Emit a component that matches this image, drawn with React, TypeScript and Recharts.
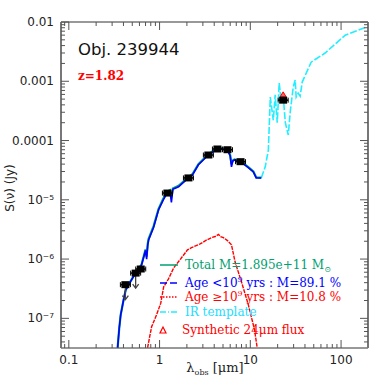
import { ComposedChart, Line, Scatter, XAxis, YAxis } from 'recharts';

// photometry (observed frame)
const photLambda = [0.42, 0.545, 0.62, 1.22, 2.08, 3.45, 4.34, 5.6, 7.8, 23];
const photFlux = [3.7e-7, 5.8e-7, 6.8e-7, 1.3e-5, 2.34e-5, 5.7e-5, 7.2e-5, 7.0e-5, 4.4e-5, 4.8e-4];
const photUpper = [true, true, false, false, false, false, false, false, false, false];

// synthetic 24um flux
const synLambda = [23];
const synFlux = [5.9e-4];

// young population (blue) / total (green)
const youngLambda = [0.345, 0.36, 0.373, 0.4, 0.423, 0.47, 0.545, 0.6, 0.634, 0.7, 0.72, 0.74, 0.757, 0.859, 0.975, 1.1, 1.22, 1.3, 1.35, 1.4, 1.62, 2.08, 2.3, 2.68, 3.45, 4.34, 5.0, 5.6, 6.0, 6.2, 6.4, 6.7, 7.8, 9.5, 10.8, 11.6, 13.2];
const youngFlux = [3.2e-8, 7e-8, 1.15e-7, 2.0e-7, 3.0e-7, 4.0e-7, 5.8e-7, 7.0e-7, 8.0e-7, 1.4e-6, 1.0e-6, 1.7e-6, 2.1e-6, 3.4e-6, 6.8e-6, 1.0e-5, 1.32e-5, 1.4e-5, 9e-6, 1.5e-5, 1.66e-5, 2.34e-5, 2.6e-5, 3.9e-5, 5.7e-5, 7.2e-5, 7.2e-5, 6.9e-5, 5.5e-5, 3.6e-5, 4.5e-5, 4.7e-5, 4.4e-5, 3.5e-5, 2.95e-5, 2.34e-5, 2.34e-5];
const totalFlux = [3.2e-8, 7e-8, 1.15e-7, 2.0e-7, 3.0e-7, 4.0e-7, 5.9e-7, 7.1e-7, 8.2e-7, 1.45e-6, 1.1e-6, 1.8e-6, 2.2e-6, 3.6e-6, 7.0e-6, 1.05e-5, 1.38e-5, 1.45e-5, 1.1e-5, 1.55e-5, 1.72e-5, 2.42e-5, 2.7e-5, 4.0e-5, 5.9e-5, 7.4e-5, 7.4e-5, 7.1e-5, 5.7e-5, 4.0e-5, 4.6e-5, 4.8e-5, 4.5e-5, 3.55e-5, 3.0e-5, 2.4e-5, 2.36e-5];

// old population (red)
const oldLambda = [0.738, 0.78, 0.817, 0.927, 1.03, 1.11, 1.25, 1.43, 1.7, 2.03, 2.25, 2.8, 3.3, 3.73, 4.1, 4.45, 4.7, 5.05, 5.6, 6.2, 6.8, 8.0, 9.5, 11.1, 11.9];
const oldFlux = [3.2e-8, 5e-8, 7.2e-8, 1.15e-7, 1.8e-7, 3.4e-7, 4.6e-7, 7.1e-7, 1.0e-6, 1.43e-6, 1.56e-6, 1.8e-6, 2.1e-6, 2.3e-6, 2.4e-6, 2.6e-6, 2.4e-6, 2.3e-6, 2.05e-6, 1.74e-6, 8.9e-7, 4.1e-7, 1.7e-7, 6.5e-8, 3.2e-8];

// IR template (cyan)
const irLambda = [13.2, 14.6, 15.8, 16.6, 17.9, 18.8, 19.8, 20.8, 21.9, 23.1, 24.3, 26.2, 27.5, 29.7, 31.2, 32.0, 33.7, 35.4, 37.3, 46.8, 66.7, 111, 188];
const irFlux = [2.34e-5, 3.6e-5, 6.9e-5, 5.4e-4, 2.2e-4, 5.9e-4, 2.0e-4, 9.3e-4, 4.8e-4, 5.4e-4, 2.0e-4, 1.24e-4, 3.0e-4, 8.0e-4, 1.05e-3, 5.4e-4, 6.3e-4, 5.6e-4, 9.7e-4, 2.1e-3, 3.0e-3, 6.0e-3, 8.2e-3];

// axes
const xTicks = [0.09, 0.1, 0.2, 0.3, 0.4, 0.5, 0.6, 0.7, 0.8, 0.9, 1, 2, 3, 4, 5, 6, 7, 8, 9, 10, 20, 30, 40, 50, 60, 70, 80, 90, 100];
const xMajor = [0.1, 1, 10, 100];
const xLabels = ['0.1', '1', '10', '100'];
const yTicks = [4e-8, 5e-8, 6e-8, 7e-8, 8e-8, 9e-8, 1e-7, 2e-7, 3e-7, 4e-7, 5e-7, 6e-7, 7e-7, 8e-7, 9e-7, 1e-6, 2e-6, 3e-6, 4e-6, 5e-6, 6e-6, 7e-6, 8e-6, 9e-6, 1e-5, 2e-5, 3e-5, 4e-5, 5e-5, 6e-5, 7e-5, 8e-5, 9e-5, 1e-4, 2e-4, 3e-4, 4e-4, 5e-4, 6e-4, 7e-4, 8e-4, 9e-4, 1e-3, 2e-3, 3e-3, 4e-3, 5e-3, 6e-3, 7e-3, 8e-3, 9e-3, 1e-2];
const yMajor = [1e-7, 1e-6, 1e-5, 1e-4, 1e-3, 1e-2];
const yLabels = ['10⁻⁷', '10⁻⁶', '10⁻⁵', '0.0001', '0.001', '0.01'];

const zip = (xs: number[], ys: number[]) => xs.map((x, i) => ({ x, y: ys[i] }));
const phot = photLambda.map((x, i) => ({ x, y: photFlux[i], upper: photUpper[i] }));
const majorIdx = (list: number[], v: number) => list.findIndex((m) => Math.abs(v / m - 1) < 1e-6);

const TICK = '#555';
const SANS = 'DejaVu Sans, sans-serif';
const SERIF = 'DejaVu Serif, serif';

const LeftTick = ({ x, y, payload }: any) => {
  const i = majorIdx(yMajor, payload.value);
  return (
    <g>
      <line x1={x} x2={x + (i >= 0 ? 8 : 4)} y1={y} y2={y} stroke={TICK} />
      {i >= 0 && (
        <text x={x - 7} y={y + 4} textAnchor="end" fontSize={12} fontFamily={SANS} fill="#222">
          {yLabels[i]}
        </text>
      )}
    </g>
  );
};

const RightTick = ({ x, y, payload }: any) => {
  const i = majorIdx(yMajor, payload.value);
  return <line x1={x} x2={x - (i >= 0 ? 8 : 4)} y1={y} y2={y} stroke={TICK} />;
};

const BottomTick = ({ x, y, payload }: any) => {
  const i = majorIdx(xMajor, payload.value);
  return (
    <g>
      <line x1={x} x2={x} y1={y} y2={y - (i >= 0 ? 8 : 4)} stroke={TICK} />
      {i >= 0 && (
        <text x={x} y={y + 16} textAnchor="middle" fontSize={12} fontFamily={SANS} fill="#222">
          {xLabels[i]}
        </text>
      )}
    </g>
  );
};

const TopTick = ({ x, y, payload }: any) => {
  const i = majorIdx(xMajor, payload.value);
  return <line x1={x} x2={x} y1={y} y2={y + (i >= 0 ? 8 : 4)} stroke={TICK} />;
};

const PhotShape = ({ cx, cy, payload }: any) => (
  <g>
    {payload.upper && (
      <g stroke="#444" strokeWidth={1.3} fill="none">
        <line x1={cx} x2={cx} y1={cy} y2={cy + 15} />
        <polyline points={`${cx - 3},${cy + 11} ${cx},${cy + 15} ${cx + 3},${cy + 11}`} />
      </g>
    )}
    <line x1={cx - 5} x2={cx + 5} y1={cy} y2={cy} stroke="#000" strokeWidth={1.5} />
    <line x1={cx - 5} x2={cx - 5} y1={cy - 2.5} y2={cy + 2.5} stroke="#000" />
    <line x1={cx + 5} x2={cx + 5} y1={cy - 2.5} y2={cy + 2.5} stroke="#000" />
    <rect x={cx - 4} y={cy - 3.5} width={8} height={7} fill="#000" />
  </g>
);

const Triangle = ({ cx, cy }: any) => (
  <polygon points={`${cx - 3},${cy + 2} ${cx + 3},${cy + 2} ${cx},${cy - 3}`} fill="#ff6060" stroke="#ff0000" />
);

export default function App() {
  return (
    <div style={{ position: 'absolute', left: 0, top: 0, width: 390, height: 390, background: '#fff' }}>
      <ComposedChart width={390} height={390} margin={{ top: 21, right: 21, bottom: 41, left: 60 }}>
        <XAxis xAxisId="b" dataKey="x" type="number" scale="log" domain={[0.082, 198]} allowDataOverflow
          ticks={xTicks} interval={0} tickSize={0} tickMargin={0} tickLine={false} tick={<BottomTick />}
          axisLine={{ stroke: '#333' }} height={1} />
        <XAxis xAxisId="t" orientation="top" dataKey="x" type="number" scale="log" domain={[0.082, 198]} allowDataOverflow
          ticks={xTicks} interval={0} tickSize={0} tickMargin={0} tickLine={false} tick={<TopTick />}
          axisLine={{ stroke: '#333' }} height={1} />
        <YAxis yAxisId="l" dataKey="y" type="number" scale="log" domain={[3.16e-8, 0.01]} allowDataOverflow
          ticks={yTicks} interval={0} tickSize={0} tickMargin={0} tickLine={false} tick={<LeftTick />}
          axisLine={{ stroke: '#777', strokeWidth: 2 }} width={1} />
        <YAxis yAxisId="r" orientation="right" dataKey="y" type="number" scale="log" domain={[3.16e-8, 0.01]} allowDataOverflow
          ticks={yTicks} interval={0} tickSize={0} tickMargin={0} tickLine={false} tick={<RightTick />}
          axisLine={{ stroke: '#777', strokeWidth: 2 }} width={1} />

        <Line xAxisId="b" yAxisId="l" data={zip(oldLambda, oldFlux)} dataKey="y" type="linear" dot={false}
          stroke="#ff0000" strokeWidth={1.4} strokeDasharray="4 1" isAnimationActive={false} />
        <Line xAxisId="b" yAxisId="l" data={zip(irLambda, irFlux)} dataKey="y" type="linear" dot={false}
          stroke="#22eeff" strokeWidth={1.6} strokeDasharray="7 2" isAnimationActive={false} />
        <Line xAxisId="b" yAxisId="l" data={zip(youngLambda, totalFlux)} dataKey="y" type="linear" dot={false}
          stroke="#00a070" strokeWidth={2.2} isAnimationActive={false} />
        <Line xAxisId="b" yAxisId="l" data={zip(youngLambda, youngFlux)} dataKey="y" type="linear" dot={false}
          stroke="#0000ff" strokeWidth={1.6} isAnimationActive={false} />
        <Scatter xAxisId="b" yAxisId="l" data={zip(synLambda, synFlux)} dataKey="y" shape={<Triangle />} isAnimationActive={false} />
        <Scatter xAxisId="b" yAxisId="l" data={phot} dataKey="y" shape={<PhotShape />} isAnimationActive={false} />
      </ComposedChart>

      <svg width={390} height={390} style={{ position: 'absolute', left: 0, top: 0, pointerEvents: 'none' }}>
        <text x={78} y={55} fontSize={16.5} fontFamily={SANS} fill="#111">Obj. 239944</text>
        <text x={78} y={80} fontSize={12} fontWeight="bold" fontFamily={SERIF} fill="#ff0000">z=1.82</text>

        <text transform="translate(14,188) rotate(-90)" textAnchor="middle" fontSize={12} fontFamily={SANS} fill="#222">
          S(ν) (Jy)
        </text>
        <text x={215} y={372} textAnchor="middle" fontSize={13} fontFamily={SERIF} fill="#222">
          λ<tspan fontSize={8} dy={3}>obs</tspan><tspan dy={-3}> [μm]</tspan>
        </text>

        <line x1={160} x2={178} y1={265} y2={265} stroke="#00a070" strokeWidth={1.5} />
        <text x={185} y={269} fontSize={12} fontFamily={SERIF} fill="#00a070">
          Total M=1.895e+11 M<tspan fontSize={8} dy={3}>⊙</tspan>
        </text>
        <line x1={160} x2={178} y1={283} y2={283} stroke="#0000ff" strokeWidth={1.5} strokeDasharray="7 3" />
        <text x={185} y={287} fontSize={12} fontFamily={SERIF} fill="#0000ff">
          Age &lt;10<tspan fontSize={8} dy={-5}>9</tspan><tspan dy={5}> yrs : M=89.1 %</tspan>
        </text>
        <line x1={160} x2={178} y1={297} y2={297} stroke="#ff0000" strokeWidth={1.5} strokeDasharray="1.5 1.5" />
        <text x={185} y={301} fontSize={12} fontFamily={SERIF} fill="#ff0000">
          Age ≥10<tspan fontSize={8} dy={-5}>9</tspan><tspan dy={5}> yrs : M=10.8 %</tspan>
        </text>
        <line x1={160} x2={178} y1={312} y2={312} stroke="#22eeff" strokeWidth={1.5} strokeDasharray="6 2 1 2" />
        <text x={185} y={316} fontSize={12} fontFamily={SERIF} fill="#22ddff">IR template</text>
        <polygon points="160,333 166,333 163,327" fill="none" stroke="#ff0000" strokeWidth={1.2} />
        <text x={182} y={334} fontSize={12} fontFamily={SERIF} fill="#ff0000">Synthetic 24μm flux</text>
      </svg>
    </div>
  );
}
